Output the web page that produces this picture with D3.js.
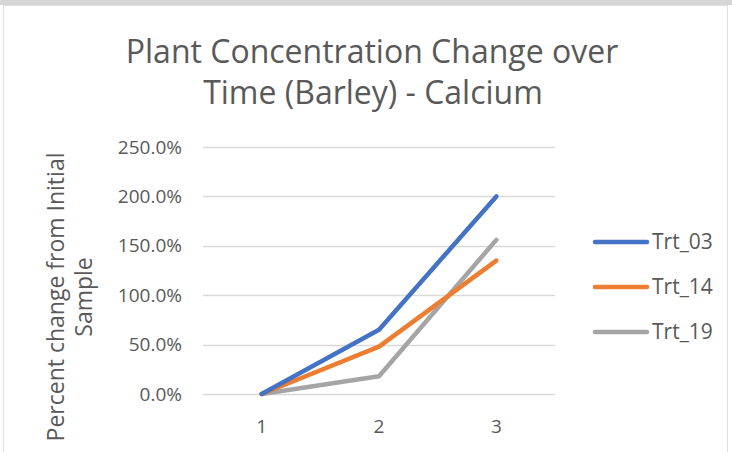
<!DOCTYPE html>
<html>
<head>
<meta charset="utf-8">
<script src="https://cdn.jsdelivr.net/npm/d3@7"></script>
<style>
    body { margin: 0; background: #fff; }
    text { font-family: "Open Sans", "Noto Sans", sans-serif; fill: #595959; }
</style>
</head>
<body>
<svg id="chart" width="732" height="452"></svg>
<script>
// Data.
const categories = ['1', '2', '3'];
const seriesNames = ['Trt_03', 'Trt_14', 'Trt_19'];
const trt03 = [0, 0.65, 2.0];
const trt14 = [0, 0.48, 1.35];
const trt19 = [0, 0.18, 1.56];
const yTicks = [0, 0.5, 1.0, 1.5, 2.0, 2.5];
const colors = ['#4472c4', '#ed7d31', '#a5a5a5'];

const series = [trt03, trt14, trt19].map((values, i) => ({
    name: seriesNames[i],
    color: colors[i],
    values
}));

const svg = d3.select('#chart');

// Frame.
svg.append('rect')
    .attr('x', 0).attr('y', 0)
    .attr('width', 732).attr('height', 5)
    .attr('fill', '#d6d6d6');
svg.append('rect')
    .attr('x', 3.5).attr('y', 5.5)
    .attr('width', 724).attr('height', 460)
    .attr('fill', '#fff')
    .attr('stroke', '#e0e0e0');

// Plot area.
const PLOT = {left: 203, right: 555, top: 147, bottom: 394};

const x = d3.scaleBand()
    .domain(categories)
    .range([PLOT.left, PLOT.right]);
const y = d3.scaleLinear()
    .domain([0, 2.5])
    .range([PLOT.bottom, PLOT.top]);

// Gridlines.
svg.append('g')
    .selectAll('line')
    .data(yTicks)
    .join('line')
    .attr('x1', PLOT.left)
    .attr('x2', PLOT.right)
    .attr('y1', d => Math.round(y(d)) + 0.5)
    .attr('y2', d => Math.round(y(d)) + 0.5)
    .attr('stroke', '#d9d9d9')
    .attr('stroke-width', 1.5);

// Y axis labels.
const fmt = d3.format('.1%');
const yAxis = svg.append('g')
    .attr('transform', `translate(${PLOT.left - 21},0)`)
    .call(d3.axisLeft(y).tickValues(yTicks).tickFormat(fmt).tickSize(0).tickPadding(0));
yAxis.select('.domain').remove();
yAxis.selectAll('text')
    .style('font-size', '19px');

// X axis labels.
const xAxis = svg.append('g')
    .attr('transform', `translate(0,${PLOT.bottom + 25})`)
    .call(d3.axisBottom(x).tickSize(0).tickPadding(0));
xAxis.select('.domain').remove();
xAxis.selectAll('text')
    .style('font-size', '19px');

// Lines.
const line = d3.line()
    .x((d, i) => x(categories[i]) + x.bandwidth() / 2)
    .y(d => y(d));

svg.append('g')
    .selectAll('path')
    .data(series.slice().reverse())
    .join('path')
    .attr('d', d => line(d.values))
    .attr('fill', 'none')
    .attr('stroke', d => d.color)
    .attr('stroke-width', 4.5)
    .attr('stroke-linejoin', 'round')
    .attr('stroke-linecap', 'round');

// Title.
const title = svg.append('text')
    .attr('text-anchor', 'middle')
    .style('font-size', '32px');
title.append('tspan').attr('x', 372).attr('y', 63).text('Plant Concentration  Change over');
title.append('tspan').attr('x', 373).attr('y', 104).text('Time (Barley) - Calcium');

// Y axis title.
const yTitle = svg.append('text')
    .attr('text-anchor', 'middle')
    .attr('transform', 'translate(64,297) rotate(-90)')
    .style('font-size', '23px');
yTitle.append('tspan').attr('x', 0).attr('y', 0).text('Percent change from Initial');
yTitle.append('tspan').attr('x', 0).attr('y', 28).text('Sample');

// Legend.
const legend = svg.append('g')
    .selectAll('g')
    .data(series)
    .join('g')
    .attr('transform', (d, i) => `translate(595,${242 + i * 45})`);
legend.append('line')
    .attr('x1', 0).attr('x2', 52)
    .attr('stroke', d => d.color)
    .attr('stroke-width', 4.5)
    .attr('stroke-linecap', 'round');
legend.append('text')
    .attr('x', 57)
    .attr('dy', '0.35em')
    .style('font-size', '21px')
    .text(d => d.name);
</script>
</body>
</html>
